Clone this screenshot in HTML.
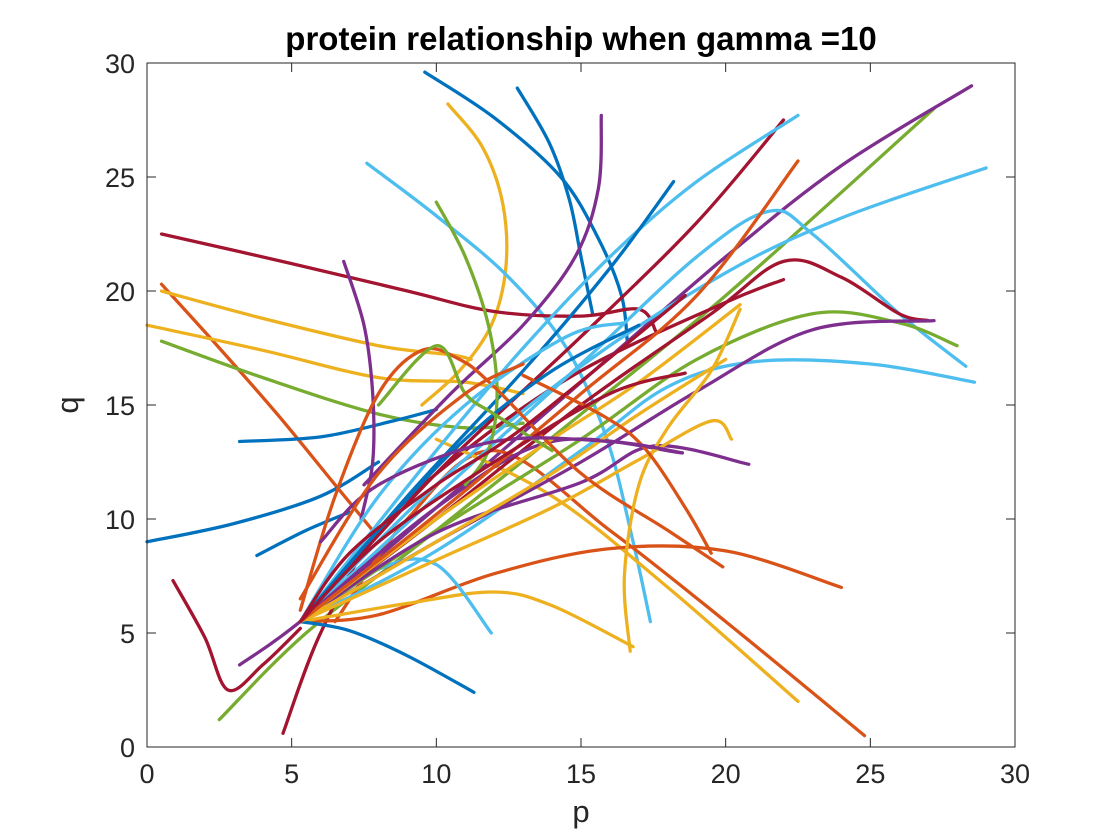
<!DOCTYPE html>
<html><head><meta charset="utf-8"><style>
body{margin:0;background:#fff;}
svg{display:block;font-family:"Liberation Sans",sans-serif;}
</style></head><body>
<svg id="chart" width="1120" height="840" viewBox="0 0 1120 840" xmlns="http://www.w3.org/2000/svg">
<rect width="1120" height="840" fill="#fff"/>
<g id="plot"></g>
<g id="axes"></g>
<text x="581" y="50" text-anchor="middle" font-size="33" font-weight="bold" fill="#000">protein relationship when gamma =10</text>
<text x="581" y="822" text-anchor="middle" font-size="31" fill="#262626">p</text>
<text x="78" y="405" text-anchor="middle" font-size="31" fill="#262626" transform="rotate(-90 78 405)">q</text>
</svg>
<script>
const xTicks = [0,5,10,15,20,25,30];
const yTicks = [0,5,10,15,20,25,30];
const seriesColors = ["#0072BD","#D95319","#EDB120","#7E2F8E","#77AC30","#4DBEEE","#A2142F"];
const seriesColorIdx = [0,0,2,5,6,1,2,2,4,0,0,0,6,4,6,3,1,2,1,2,0,5,5,5,5,4,6,3,3,3,2,2,2,6,5,1,0,3,3,4,1,2,1,0,5,6,4,3,1,6];
const seriesPoints = [
[[9.6,29.6],[12,27.6],[14.3,25],[15.6,22.3],[16.4,19.8],[16.6,17.8]],
[[12.8,28.9],[13.9,26.5],[14.6,24],[15,21.5],[15.4,19]],
[[10.4,28.2],[11.6,26.3],[12.3,23.8],[12.4,21],[11.9,18.5],[10.8,16.5],[9.5,15]],
[[7.6,25.6],[10,23.3],[12.5,20.6],[14.5,17.5],[15.9,13.5],[16.8,9],[17.4,5.5]],
[[0.5,22.5],[5,21.2],[9,20],[12,19.1],[15,18.9],[17,19.2],[17.6,18.2]],
[[0.5,20.3],[2.5,17.5],[4.5,14.6],[6.5,11.5],[7.8,9.5]],
[[0.5,20],[4,18.8],[8,17.6],[10.5,17.2],[11.2,17]],
[[0,18.5],[4,17.4],[8,16.2],[11,16],[13,15.5]],
[[0.5,17.8],[4,16.2],[8,14.6],[11,14],[13,14.2]],
[[3.2,13.4],[6,13.6],[8.5,14.3],[10,14.8]],
[[0,9],[3,9.8],[6,11],[8,12.5]],
[[3.8,8.4],[5.5,9.5],[7,10.3]],
[[0.9,7.3],[2,4.8],[2.8,2.5],[4,3.6],[5.3,5.2]],
[[2.5,1.2],[5.5,5],[10,9.5],[15,14.6],[20,19.8],[27.2,28]],
[[4.7,0.6],[6,5],[8,9.5],[11,13],[15,16.5],[20,19.5],[22,20.5]],
[[3.2,3.6],[5.3,5.5],[10,10.5],[15,16],[20,21.5],[24,25.5],[28.5,29]],
[[6.5,5.5],[9,10],[12,13],[16,9.5],[20,5.5],[24.8,0.5]],
[[10,13.5],[14,11],[18,7],[22.5,2]],
[[5.3,5.5],[8,5.8],[12,7.6],[16,8.7],[20,8.6],[24,7]],
[[5.3,5.5],[9,6.3],[12,6.8],[14,6.2],[16.8,4.4]],
[[5.3,5.5],[7,5.1],[9,4],[11.3,2.4]],
[[5.3,5.5],[8,7.8],[10,8],[11.9,5]],
[[5.3,5.5],[10,8.6],[15,13],[18,15.8],[21,16.9],[25,16.8],[28.6,16]],
[[5.3,5.5],[10,11.5],[15,16.7],[20,20.8],[24,23.2],[29,25.4]],
[[5.3,5.5],[10,11],[15,16.8],[19,21.5],[21.5,23.5],[23,22.5],[26,19],[28.3,16.7]],
[[5.3,5.5],[10,9.5],[15,13.5],[19,17],[23,19],[26,18.6],[28,17.6]],
[[5.3,5.5],[10,10],[15,15],[19.5,19],[22,21.3],[24,20.6],[26,19],[27,18.7]],
[[5.3,5.5],[10,9],[15,12.5],[19,15.6],[23,18.3],[27.2,18.7]],
[[5.3,5.5],[10,9.4],[15,11.6],[17.5,13.2],[20.8,12.4]],
[[5.3,5.5],[10,10.5],[14,13.4],[18.5,12.9]],
[[5.3,5.5],[10,8.2],[14,10.5],[17,12.6],[19.5,14.3],[20.2,13.5]],
[[5.3,5.5],[10,9],[14,12],[17,14.6],[20,17]],
[[5.3,5.5],[10,10],[14,13.5],[17,16],[20.5,19.4]],
[[5.3,5.5],[10,12],[15,18],[19,23],[22,27.5]],
[[5.3,5.5],[10,13],[13,17.5],[16,21.5],[19,24.8],[22.5,27.7]],
[[5.3,5.5],[10,10.2],[15,15.5],[19,19.8],[22.5,25.7]],
[[5.3,5.5],[9,11],[13,16.5],[16,21],[18.2,24.8]],
[[6.8,21.3],[7.5,18.5],[7.8,15.5],[7.8,12.5],[7.4,10]],
[[15.7,27.7],[15.6,24.5],[14.8,21.5],[13,18.5],[10.5,15.5],[7.5,11.5]],
[[10,23.9],[11,21.5],[11.8,18.5],[12.1,15.5],[11.8,13],[11,11.5]],
[[5.3,6],[6.5,11],[8,15.5],[9.5,17.4],[10.8,17],[12,15.8],[15,12],[18,9.5],[19.9,7.9]],
[[16.7,4.2],[16.5,7.5],[17,11.5],[18,14],[19.5,16.5],[20.5,19.2]],
[[13,16.3],[15.8,14.5],[17.2,13.1],[18.6,10.5],[19.5,8.5]],
[[5.3,5.5],[8,9.5],[11,13.5],[14,16.5],[17,18.5]],
[[5.3,5.5],[8,11],[11,15],[14.5,18],[16.5,18.6]],
[[5.3,5.5],[8,9],[12,12.5],[16,15.5],[18.6,16.4]],
[[8,15],[10,17.6],[11,15.5],[12,14.6],[14,13]],
[[6,9],[8,11.5],[12,13.4],[16,13.4],[18.5,12.9]],
[[5.3,6.5],[8,12],[11,15.5],[13,16.8]],
[[5.3,5.5],[7,8.5],[10,11.5],[13,14],[18.6,19.8]]
];
const X0=147,X1=1015,Y0=747,Y1=63;
const sx=v=>X0+(v-0)/30*(X1-X0);
const sy=v=>Y0-(v-0)/30*(Y0-Y1);
const NS="http://www.w3.org/2000/svg";
const plot=document.getElementById('plot');
const axes=document.getElementById('axes');
function smoothPath(pts){
  const P=pts.map(p=>[sx(p[0]),sy(p[1])]);
  let d="M"+P[0][0].toFixed(1)+","+P[0][1].toFixed(1);
  for(let i=0;i<P.length-1;i++){
    const p0=P[i-1]||P[i],p1=P[i],p2=P[i+1],p3=P[i+2]||P[i+1];
    const c1=[p1[0]+(p2[0]-p0[0])/6,p1[1]+(p2[1]-p0[1])/6];
    const c2=[p2[0]-(p3[0]-p1[0])/6,p2[1]-(p3[1]-p1[1])/6];
    d+=" C"+c1.map(v=>v.toFixed(1)).join(",")+" "+c2.map(v=>v.toFixed(1)).join(",")+" "+p2.map(v=>v.toFixed(1)).join(",");
  }
  return d;
}
seriesPoints.forEach((pts,i)=>{
  const path=document.createElementNS(NS,'path');
  path.setAttribute('d',smoothPath(pts));
  path.setAttribute('fill','none');
  path.setAttribute('stroke',seriesColors[seriesColorIdx[i]%7]);
  path.setAttribute('stroke-width','3.3');
  path.setAttribute('stroke-linecap','round');
  
  
  plot.appendChild(path);
});
const box=document.createElementNS(NS,'rect');
box.setAttribute('x',X0);box.setAttribute('y',Y1);
box.setAttribute('width',X1-X0);box.setAttribute('height',Y0-Y1);
box.setAttribute('fill','none');box.setAttribute('stroke','#262626');box.setAttribute('stroke-width','1');


axes.appendChild(box);
xTicks.forEach(t=>{
  const x=sx(t);
  [[Y0,Y0-9],[Y1,Y1+9]].forEach(([a,b])=>{
    const l=document.createElementNS(NS,'line');
    l.setAttribute('x1',x);l.setAttribute('x2',x);l.setAttribute('y1',a);l.setAttribute('y2',b);
    l.setAttribute('stroke','#262626');
    
    
    axes.appendChild(l);
  });
  const tx=document.createElementNS(NS,'text');
  tx.setAttribute('x',x);tx.setAttribute('y',Y0+36);tx.setAttribute('text-anchor','middle');
  tx.setAttribute('font-size','27');tx.setAttribute('fill','#262626');tx.textContent=t;
  
  
  axes.appendChild(tx);
});
yTicks.forEach(t=>{
  const y=sy(t);
  [[X0,X0+9],[X1,X1-9]].forEach(([a,b])=>{
    const l=document.createElementNS(NS,'line');
    l.setAttribute('x1',a);l.setAttribute('x2',b);l.setAttribute('y1',y);l.setAttribute('y2',y);
    l.setAttribute('stroke','#262626');
    
    
    axes.appendChild(l);
  });
  const tx=document.createElementNS(NS,'text');
  tx.setAttribute('x',X0-12);tx.setAttribute('y',y+10);tx.setAttribute('text-anchor','end');
  tx.setAttribute('font-size','27');tx.setAttribute('fill','#262626');tx.textContent=t;
  
  
  axes.appendChild(tx);
});
</script>
</body></html>
